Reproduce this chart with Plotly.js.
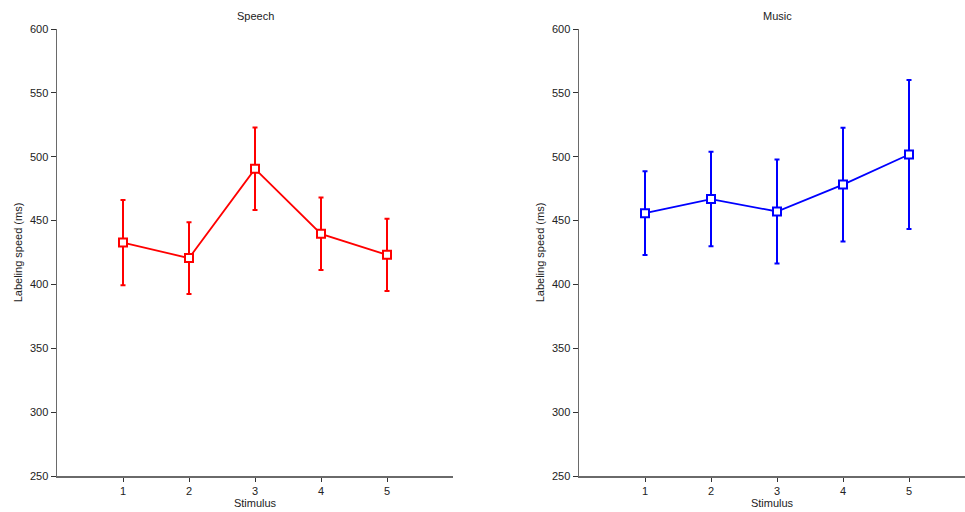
<!DOCTYPE html>
<html>
<head>
<meta charset="utf-8">
<script src="https://cdn.plot.ly/plotly-3.0.1.min.js"></script>
<style>html,body{margin:0;padding:0;background:#fff;}#chart{width:965px;height:512px;}</style>
</head>
<body>
<div id="chart"></div>
<script>
const stimulus = [1, 2, 3, 4, 5];
const tickLabels = ["1", "2", "3", "4", "5"];
const speechMean = [432.8, 420.6, 490.5, 439.6, 423.2];
const speechErr = [33.4, 28.0, 32.3, 28.4, 28.3];
const musicMean = [455.8, 466.8, 457.1, 478.2, 501.7];
const musicErr = [32.8, 37.0, 40.7, 44.5, 58.3];
const yTicks = [250, 300, 350, 400, 450, 500, 550, 600];

const W = 965, H = 512;
const font = {family: "Liberation Sans, Arial, sans-serif", size: 11, color: "#222"};

function trace(y, err, color, xa, ya) {
  return {
    x: stimulus, y: y, xaxis: xa, yaxis: ya,
    type: "scatter", mode: "lines+markers",
    line: {color: color, width: 1.8},
    marker: {symbol: "square", size: 8, color: "#fff", line: {color: color, width: 2}},
    error_y: {type: "data", array: err, visible: true, color: color, thickness: 2, width: 2.5},
    showlegend: false, hoverinfo: "skip"
  };
}

const xbase = {
  tickvals: stimulus, ticktext: tickLabels, ticks: "outside", ticklen: 4, tickwidth: 1,
  tickcolor: "#333", showline: true, linecolor: "#6a6a6a", linewidth: 1.5,
  showgrid: false, zeroline: false, tickfont: font, fixedrange: true,
  title: {text: "Stimulus", font: font, standoff: 3}
};
const ybase = {
  range: [250, 600], tickvals: yTicks, ticks: "outside", ticklen: 5, tickwidth: 1,
  tickcolor: "#333", showline: true, linecolor: "#6a6a6a", linewidth: 1.5,
  showgrid: false, zeroline: false, tickfont: font, fixedrange: true,
  title: {text: "Labeling speed (ms)", font: font, standoff: 5}
};

const layout = {
  width: W, height: H,
  margin: {l: 0, r: 0, t: 0, b: 0},
  paper_bgcolor: "#fff", plot_bgcolor: "#fff",
  font: font,
  xaxis: Object.assign({}, xbase, {domain: [57 / W, 453 / W], range: [0, 6], anchor: "y"}),
  yaxis: Object.assign({}, ybase, {domain: [36 / H, 483 / H], anchor: "x"}),
  xaxis2: Object.assign({}, xbase, {domain: [579 / W, 1], range: [0, 386 / 66], anchor: "y2"}),
  yaxis2: Object.assign({}, ybase, {domain: [36 / H, 483 / H], anchor: "x2"}),
  annotations: [
    {text: "Speech", xref: "x", yref: "paper", x: 3, y: (H - 16) / H, yanchor: "middle", showarrow: false, font: font},
    {text: "Music", xref: "x2", yref: "paper", x: 3, y: (H - 16) / H, yanchor: "middle", showarrow: false, font: font}
  ]
};

Plotly.newPlot("chart", [
  trace(speechMean, speechErr, "#ff0000", "x", "y"),
  trace(musicMean, musicErr, "#0000ff", "x2", "y2")
], layout, {displayModeBar: false, staticPlot: true});
</script>
</body>
</html>
